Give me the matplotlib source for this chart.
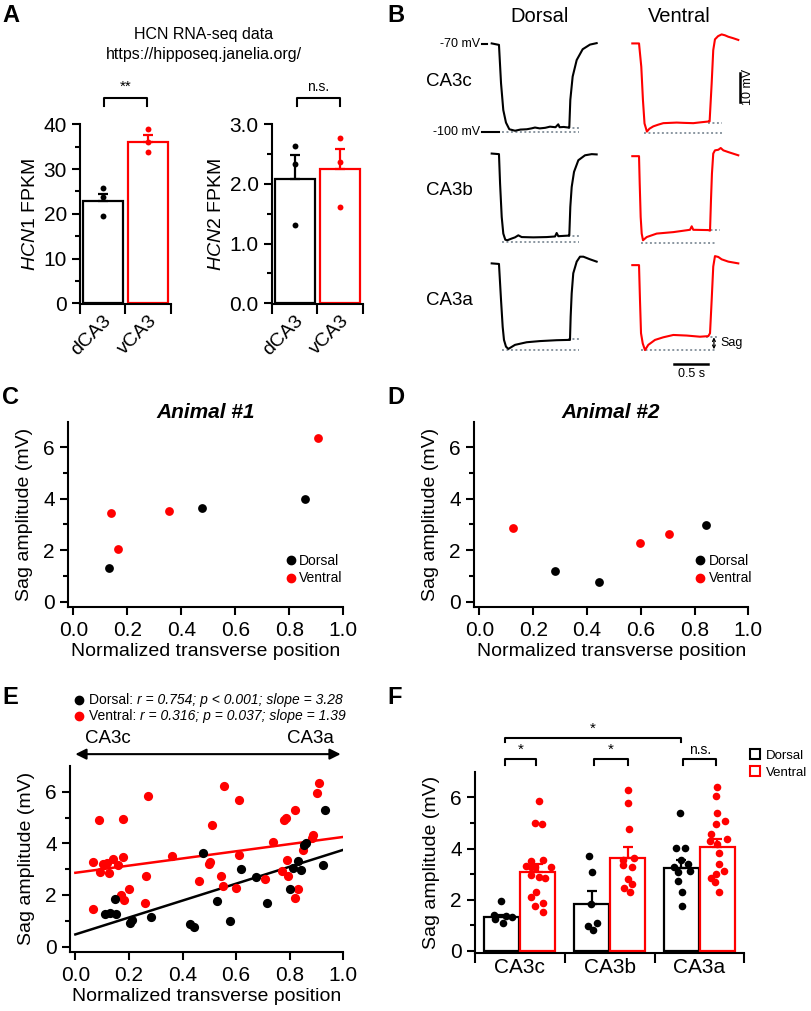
import matplotlib
matplotlib.use('Agg')
import matplotlib.pyplot as plt
import numpy as np
from matplotlib.patches import Patch
from matplotlib.lines import Line2D

plt.rcParams['font.family'] = ['Liberation Sans', 'DejaVu Sans']
plt.rcParams['mathtext.fontset'] = 'custom'
plt.rcParams['mathtext.rm'] = 'Liberation Sans'
plt.rcParams['mathtext.it'] = 'Liberation Sans:italic'

RED = '#ff0000'
GREY = '#8a96a0'

# ---------------- data ----------------
# A: HCN RNA-seq (FPKM)
groups_A = ['dCA3', 'vCA3']
hcn1_mean = [22.9, 36.1]
hcn1_sem = [1.5, 1.5]
hcn1_pts = [[25.7, 23.8, 19.5], [38.9, 36.1, 33.8]]
hcn2_mean = [2.08, 2.25]
hcn2_sem = [0.41, 0.34]
hcn2_pts = [[2.63, 2.34, 1.31], [2.77, 2.37, 1.62]]

# B: example voltage traces (time s, membrane potential mV)
tr_dc_t = [0, 0.106, 0.136, 0.169, 0.208, 0.257, 0.34, 0.42, 0.51, 0.58, 0.631, 0.70, 0.78, 0.85,
           0.93, 0.97, 0.99, 1.05, 1.117, 1.131, 1.146, 1.18, 1.239, 1.326, 1.433, 1.53]
tr_dc_v = [-69.7, -70.2, -83.4, -92.6, -96.9, -99.2, -99.7, -99.3, -99.2, -98.9, -98.6, -98.9, -98.7,
           -98.3, -98.5, -97.5, -98.5, -98.4, -98.6, -98.6, -89.1, -81.1, -75.4, -71.7, -70.1, -69.6]
tr_vc_t = [0, 0.098, 0.131, 0.155, 0.178, 0.213, 0.25, 0.306, 0.38, 0.452, 0.55, 0.647, 0.75, 0.889,
           1.0, 1.122, 1.127, 1.157, 1.18, 1.205, 1.25, 1.302, 1.35, 1.399, 1.47, 1.545]
tr_vc_v = [-69.7, -69.7, -77.7, -89.1, -97.2, -100.0, -99.0, -98.2, -97.6, -97.1, -97.0, -96.9, -97.0,
           -97.1, -96.8, -96.5, -96.5, -83.4, -72.0, -68.3, -67.2, -66.6, -66.9, -67.4, -67.9, -68.5]
tr_db_t = [0, 0.106, 0.122, 0.146, 0.169, 0.198, 0.227, 0.292, 0.34, 0.388, 0.437, 0.607, 0.802,
           0.923, 0.947, 0.971, 1.117, 1.131, 1.146, 1.166, 1.2, 1.263, 1.36, 1.458, 1.53]
tr_db_v = [-70.0, -70.2, -80.3, -91.8, -97.5, -99.6, -99.8, -99.2, -98.8, -98.1, -98.7, -98.8, -98.7,
           -98.5, -97.3, -98.4, -98.2, -98.2, -88.3, -81.5, -76.3, -72.3, -70.6, -70.2, -70.3]
tr_vb_t = [0, 0.098, 0.108, 0.122, 0.137, 0.156, 0.21, 0.356, 0.598, 0.841, 0.866, 0.889, 1.108,
           1.133, 1.147, 1.161, 1.18, 1.205, 1.254, 1.289, 1.327, 1.4, 1.545]
tr_vb_v = [-70.9, -70.9, -80.3, -91.8, -97.5, -99.8, -98.7, -97.5, -97.0, -96.2, -95.0, -96.2, -96.3,
           -96.5, -86.0, -76.9, -70.0, -68.9, -68.7, -68.1, -68.9, -69.5, -70.6]
tr_da_t = [0, 0.106, 0.136, 0.16, 0.179, 0.208, 0.242, 0.34, 0.51, 0.704, 0.947, 1.117, 1.141,
           1.151, 1.166, 1.189, 1.239, 1.287, 1.336, 1.433, 1.53]
tr_da_v = [-70.2, -70.4, -82.8, -92.0, -96.5, -98.8, -99.6, -98.2, -97.3, -96.9, -96.6, -96.5, -96.5,
           -88.5, -80.5, -73.6, -69.6, -67.9, -67.9, -68.8, -69.6]
tr_va_t = [0, 0.098, 0.112, 0.127, 0.152, 0.185, 0.233, 0.331, 0.452, 0.598, 0.793, 0.987, 1.108,
           1.133, 1.157, 1.18, 1.205, 1.254, 1.302, 1.4, 1.545]
tr_va_v = [-70.8, -70.8, -82.8, -94.2, -97.7, -100.0, -98.2, -96.5, -95.6, -94.8, -95.0, -95.4, -95.2,
           -94.2, -82.8, -71.3, -67.7, -68.0, -68.8, -69.6, -70.2]
# peak and steady-state reference levels (t start, t end, mV)
ref_dc = [(0.146, 1.27, -100.3), (1.11, 1.27, -98.9)]
ref_vc = [(0.177, 1.305, -100.4), (1.11, 1.305, -96.9)]
ref_db = [(0.146, 1.27, -100.4), (1.11, 1.29, -98.3)]
ref_vb = [(0.12, 1.24, -100.7), (1.07, 1.28, -96.3)]
ref_da = [(0.146, 1.27, -100.0), (1.11, 1.29, -96.3)]
ref_va = [(0.12, 1.24, -100.0), (1.07, 1.24, -95.4)]

# C, D: single animals
c_dors_x = [0.131, 0.476, 0.858]
c_dors_y = [1.31, 3.63, 3.98]
c_vent_x = [0.140, 0.167, 0.355, 0.907]
c_vent_y = [3.44, 2.03, 3.53, 6.35]
d_dors_x = [0.282, 0.443, 0.841]
d_dors_y = [1.17, 0.75, 2.99]
d_vent_x = [0.124, 0.598, 0.704]
d_vent_y = [2.86, 2.26, 2.64]

# E: pooled
e_dors_x = [0.109, 0.130, 0.147, 0.152, 0.205, 0.211, 0.282, 0.429, 0.443, 0.478, 0.530, 0.576,
            0.620, 0.673, 0.714, 0.801, 0.811, 0.830, 0.842, 0.855, 0.861, 0.925, 0.932]
e_dors_y = [1.28, 1.31, 1.86, 1.25, 0.92, 1.02, 1.15, 0.88, 0.75, 3.64, 1.77, 1.00,
            2.99, 2.68, 1.67, 2.25, 3.05, 3.32, 2.97, 3.94, 4.03, 3.18, 5.31]
e_vent_x = [0.065, 0.065, 0.088, 0.091, 0.102, 0.118, 0.124, 0.140, 0.159, 0.169, 0.178, 0.179,
            0.181, 0.200, 0.260, 0.265, 0.271, 0.359, 0.463, 0.497, 0.503, 0.510, 0.543, 0.550,
            0.554, 0.598, 0.610, 0.610, 0.706, 0.739, 0.773, 0.777, 0.785, 0.791, 0.795, 0.819,
            0.821, 0.830, 0.851, 0.882, 0.888, 0.900, 0.909]
e_vent_y = [3.27, 1.47, 4.91, 2.90, 3.19, 3.25, 2.86, 3.41, 3.16, 1.99, 3.46, 4.96,
            1.80, 2.24, 1.67, 2.73, 5.82, 3.50, 2.53, 3.19, 3.29, 4.70, 2.75, 2.36,
            6.22, 2.26, 5.70, 3.54, 2.63, 4.07, 2.94, 4.91, 4.99, 3.35, 2.73, 5.31,
            1.89, 2.25, 3.75, 4.20, 4.32, 5.96, 6.34]
fit_dors = (0.47, 3.28)   # intercept, slope
fit_vent = (2.86, 1.39)

# F: sag by subregion
regions = ['CA3c', 'CA3b', 'CA3a']
f_dors_mean = [1.31, 1.82, 3.22]
f_dors_sem = [0.10, 0.52, 0.35]
f_vent_mean = [3.10, 3.62, 4.05]
f_vent_sem = [0.30, 0.42, 0.31]
f_dors_pts = [[1.94, 1.40, 1.23, 1.08, 1.36, 1.34],
              [3.70, 3.08, 1.83, 1.10, 0.97, 0.82],
              [5.39, 4.02, 4.02, 3.55, 3.26, 3.39, 3.13, 3.09, 2.74, 2.30, 1.75]]
f_dors_jit = [[-0.006, -0.087, -0.076, 0.013, 0.05, 0.117],
              [-0.032, 0.005, -0.013, 0.057, -0.043, 0.013],
              [-0.015, -0.06, 0.041, 0.0, -0.078, 0.07, 0.09, -0.037, -0.041, 0.008, 0.008]]
f_vent_pts = [[5.87, 5.01, 4.97, 3.52, 3.55, 3.31, 3.26, 3.29, 3.28, 2.96, 2.89, 2.83, 2.31, 2.12, 1.86, 1.75, 1.53],
              [6.27, 5.77, 4.77, 3.57, 3.64, 3.35, 3.26, 2.82, 2.60, 2.44, 2.31],
              [6.41, 6.04, 5.39, 4.96, 5.06, 4.56, 4.28, 4.19, 4.38, 3.84, 3.39, 3.14, 2.83, 3.01, 2.70, 2.32]]
f_vent_jit = [[0.013, -0.036, 0.043, -0.076, 0.054, -0.132, -0.076, -0.028, 0.148, -0.076, 0.009, 0.076, -0.02, -0.076, 0.062, -0.028, 0.054],
              [0.0, 0.0, 0.012, -0.055, 0.076, -0.047, 0.05, 0.0, 0.05, -0.036, 0.028],
              [0.0, -0.013, 0.0, -0.013, 0.08, -0.066, -0.084, 0.0, 0.11, 0.017, 0.02, 0.073, -0.07, -0.01, -0.028, 0.013]]

# ---------------- figure ----------------
W, H = 812, 1011
fig = plt.figure(figsize=(W / 100, H / 100), dpi=100)


def add_ax(l, t, r, b):
    return fig.add_axes([l / W, 1 - b / H, (r - l) / W, (b - t) / H])


def ftext(x, y, s, **kw):
    fig.text(x / W, 1 - y / H, s, **kw)


def style(ax):
    for s in ['top', 'right']:
        ax.spines[s].set_visible(False)
    for s in ['left', 'bottom']:
        ax.spines[s].set_linewidth(1.5)
    ax.tick_params(which='major', length=5.5, width=1.5, labelsize=15, pad=4)
    ax.tick_params(which='minor', length=3.5, width=1.5)


def bracket(ax, x0, x1, y, h, txt, size=11):
    ax.plot([x0, x0, x1, x1], [y - h, y, y, y - h], color='k', lw=1.5, clip_on=False)
    ax.text((x0 + x1) / 2, y + h * 0.5, txt, ha='center', va='bottom', fontsize=size, clip_on=False)


# panel letters
for lab, x, y in [('A', 2, 16), ('B', 387, 16), ('C', 2, 398), ('D', 387, 398), ('E', 2, 698), ('F', 387, 698)]:
    ftext(x, y, lab, fontsize=17, fontweight='bold', ha='left', va='center')

# ---- A ----
ftext(204, 34, 'HCN RNA-seq data', fontsize=11.5, ha='center', va='center')
ftext(204, 55, 'https://hipposeq.janelia.org/', fontsize=11.5, ha='center', va='center')


def bar_panel_A(ax, means, sems, pts, top, ylab, step, minor):
    xs = [0, 1]
    cols = ['k', RED]
    ax.bar(xs, means, width=0.88, color='white', edgecolor=cols, linewidth=1.6, zorder=2)
    for i in xs:
        ax.errorbar(xs[i], means[i], yerr=[[0], [sems[i]]], color=cols[i], capsize=3.5,
                    elinewidth=1.6, capthick=1.6, zorder=3)
        ax.scatter([xs[i]] * len(pts[i]), pts[i], s=18, color=cols[i], zorder=4, linewidths=0)
    ax.set_xlim(-0.5, 1.5)
    ax.set_ylim(-top * 0.004, top)
    ax.set_yticks(np.arange(0, top + step / 2, step))
    ax.set_yticks(minor, minor=True)
    ax.set_xticks([-0.5, 0.5, 1.5])
    ax.set_xticklabels([])
    ax.set_xticks(xs, minor=True)
    ax.set_xticklabels(groups_A, minor=True, rotation=45, ha='right', rotation_mode='anchor', fontsize=14)
    style(ax)
    ax.tick_params(axis='x', which='major', length=7)
    ax.tick_params(axis='x', which='minor', length=0, pad=6)
    ax.set_ylabel(ylab, fontsize=14, labelpad=3)


axA1 = add_ax(80, 124.3, 171, 304)
bar_panel_A(axA1, hcn1_mean, hcn1_sem, hcn1_pts, 40, r'$\mathit{HCN1}$ FPKM', 10, [5, 15, 25, 35])
axA1.set_yticklabels(['0', '10', '20', '30', '40'])
bracket(axA1, 0.03, 0.97, 45.9, 1.8, '**', 11)

axA2 = add_ax(272, 124.3, 363, 304)
bar_panel_A(axA2, hcn2_mean, hcn2_sem, hcn2_pts, 3.0, r'$\mathit{HCN2}$ FPKM', 1.0, [0.5, 1.5, 2.5])
axA2.set_yticklabels(['0.0', '1.0', '2.0', '3.0'])
bracket(axA2, 0.04, 1.0, 3.44, 0.13, 'n.s.', 10)

# ---- B ----
PX_S, PX_MV = 68.6, 2.91
XL, YL = (-0.25, 1.75), (-112, -62)
traces = [[(tr_dc_t, tr_dc_v, ref_dc), (tr_vc_t, tr_vc_v, ref_vc)],
          [(tr_db_t, tr_db_v, ref_db), (tr_vb_t, tr_vb_v, ref_vb)],
          [(tr_da_t, tr_da_v, ref_da), (tr_va_t, tr_va_v, ref_va)]]
row_labels = ['CA3c', 'CA3b', 'CA3a']
col_left = [491.7, 632.3]
bax = {}
for r in range(3):
    top = 44.3 + r * 109.25 - (YL[1] + 70) * PX_MV
    for c in range(2):
        left = col_left[c] + XL[0] * PX_S
        ax = add_ax(left, top, left + (XL[1] - XL[0]) * PX_S, top + (YL[1] - YL[0]) * PX_MV)
        ax.set_xlim(*XL)
        ax.set_ylim(*YL)
        ax.axis('off')
        t, v, refs = traces[r][c]
        for (t0, t1, lev) in refs:
            ax.plot([t0, t1], [lev, lev], color=GREY, lw=1.4, ls=(0, (1, 1.3)), zorder=1)
        ax.plot(t, v, color='k' if c == 0 else RED, lw=1.5, zorder=2)
        bax[(r, c)] = ax
    ftext(426, 81.7 + r * 109.25, row_labels[r], fontsize=13.5, ha='left', va='center')

ftext(539.3, 16.7, 'Dorsal', fontsize=14.5, ha='center', va='center')
ftext(679.3, 16.7, 'Ventral', fontsize=14.5, ha='center', va='center')

a = bax[(0, 0)]
a.plot([-0.146, -0.064], [-70, -70], color='k', lw=1.5, clip_on=False)
a.plot([-0.146, 0.111], [-100, -100], color='k', lw=1.5, clip_on=False)
a.text(-0.17, -70, '-70 mV', fontsize=9, ha='right', va='center')
a.text(-0.17, -100, '-100 mV', fontsize=9, ha='right', va='center')

a = bax[(0, 1)]
a.plot([1.57, 1.57], [-79.8, -89.8], color='k', lw=1.8)
a.text(1.68, -84.8, '10 mV', fontsize=9, rotation=90, ha='center', va='center')

a = bax[(2, 1)]
a.plot([0.608, 1.108], [-104.8, -104.8], color='k', lw=1.8)
a.text(0.858, -108.3, '0.5 s', fontsize=9, ha='center', va='center')
a.annotate('', xy=(1.19, -95.6), xytext=(1.19, -99.7),
           arrowprops=dict(arrowstyle='<->', lw=0.9, color='k', mutation_scale=5, shrinkA=0, shrinkB=0))
a.text(1.28, -97.6, 'Sag', fontsize=9, ha='left', va='center')


# ---- C, D, E ----
def scatter_axes(ax):
    ax.set_xlim(-0.02, 1.0)
    ax.set_ylim(-0.2, 7)
    ax.set_xticks(np.arange(0, 1.01, 0.2))
    ax.set_xticklabels(['0.0', '0.2', '0.4', '0.6', '0.8', '1.0'])
    ax.set_yticks([0, 2, 4, 6])
    ax.set_yticks([1, 3, 5], minor=True)
    style(ax)
    ax.tick_params(axis='x', pad=5)
    ax.set_xlabel('Normalized transverse position', fontsize=14, labelpad=2)
    ax.set_ylabel('Sag amplitude (mV)', fontsize=14, labelpad=7)


def small_legend(ax, x, y):
    h = [Line2D([], [], ls='', marker='o', color='k', markersize=6),
         Line2D([], [], ls='', marker='o', color=RED, markersize=6)]
    ax.legend(h, ['Dorsal', 'Ventral'], loc='upper left', bbox_to_anchor=(x, y), frameon=False,
              fontsize=10, handlelength=0.6, handletextpad=0.3, labelspacing=0.25, borderpad=0,
              borderaxespad=0)


axC = add_ax(68, 421.7, 343.3, 606.7)
axC.scatter(c_dors_x, c_dors_y, s=40, color='k', linewidths=0, zorder=3)
axC.scatter(c_vent_x, c_vent_y, s=40, color=RED, linewidths=0, zorder=3)
scatter_axes(axC)
axC.set_title('Animal #1', fontsize=15, fontweight='bold', fontstyle='italic', pad=3)
small_legend(axC, 0.795, 0.285)

axD = add_ax(474, 421.7, 748.3, 606.7)
axD.scatter(d_dors_x, d_dors_y, s=40, color='k', linewidths=0, zorder=3)
axD.scatter(d_vent_x, d_vent_y, s=40, color=RED, linewidths=0, zorder=3)
scatter_axes(axD)
axD.set_title('Animal #2', fontsize=15, fontweight='bold', fontstyle='italic', pad=3)
small_legend(axD, 0.81, 0.285)

axE = add_ax(70, 766, 343.3, 951.7)
xs = np.array([0.0, 1.0])
axE.plot(xs, fit_vent[0] + fit_vent[1] * xs, color=RED, lw=1.8, zorder=2)
axE.plot(xs, fit_dors[0] + fit_dors[1] * xs, color='k', lw=1.8, zorder=2)
axE.scatter(e_vent_x, e_vent_y, s=44, color=RED, linewidths=0, zorder=3)
axE.scatter(e_dors_x, e_dors_y, s=44, color='k', linewidths=0, zorder=4)
scatter_axes(axE)
axE.annotate('', xy=(0.0, 7.46), xytext=(0.99, 7.46), annotation_clip=False,
             arrowprops=dict(arrowstyle='<|-|>', lw=1.5, color='k', mutation_scale=16, shrinkA=0, shrinkB=0))
axE.text(0.123, 8.05, 'CA3c', fontsize=13.5, ha='center', va='center')
axE.text(0.876, 8.05, 'CA3a', fontsize=13.5, ha='center', va='center')
for yy, col, lab, stat in [(9.57, 'k', 'Dorsal: ', 'r = 0.754; p < 0.001; slope = 3.28'),
                           (8.92, RED, 'Ventral: ', 'r = 0.316; p = 0.037; slope = 1.39')]:
    axE.plot([0.015], [yy], 'o', color=col, markersize=6, clip_on=False)
    t1 = axE.text(0.05, yy, lab, fontsize=10, ha='left', va='center')
    axE.annotate(stat, xy=(1, 0.5), xycoords=t1, fontsize=10, fontstyle='italic', ha='left', va='center')

# ---- F ----
axF = add_ax(475, 771.7, 744.3, 952.7)
pos = np.arange(3)
axF.bar(pos - 0.2, f_dors_mean, width=0.39, color='white', edgecolor='k', linewidth=1.6, zorder=2)
axF.bar(pos + 0.2, f_vent_mean, width=0.39, color='white', edgecolor=RED, linewidth=1.6, zorder=2)
axF.errorbar(pos - 0.2, f_dors_mean, yerr=[[0] * 3, f_dors_sem], fmt='none', ecolor='k',
             capsize=3.5, elinewidth=1.6, capthick=1.6, zorder=3)
axF.errorbar(pos + 0.2, f_vent_mean, yerr=[[0] * 3, f_vent_sem], fmt='none', ecolor=RED,
             capsize=3.5, elinewidth=1.6, capthick=1.6, zorder=3)
for i in range(3):
    axF.scatter(pos[i] - 0.2 + np.array(f_dors_jit[i]), f_dors_pts[i], s=30, color='k', linewidths=0, zorder=4)
    axF.scatter(pos[i] + 0.2 + np.array(f_vent_jit[i]), f_vent_pts[i], s=30, color=RED, linewidths=0, zorder=4)
axF.set_xlim(-0.5, 2.5)
axF.set_ylim(-0.07, 7)
axF.set_yticks([0, 2, 4, 6])
axF.set_yticks([1, 3, 5], minor=True)
axF.set_xticks([-0.5, 0.5, 1.5, 2.5])
axF.set_xticklabels([])
axF.set_xticks(pos, minor=True)
axF.set_xticklabels(regions, minor=True, fontsize=15)
style(axF)
axF.tick_params(axis='x', which='major', length=7)
axF.tick_params(axis='x', which='minor', length=0, pad=4)
axF.set_ylabel('Sag amplitude (mV)', fontsize=14, labelpad=7)
bracket(axF, -0.17, 0.18, 7.48, 0.2, '*', 11)
bracket(axF, 0.83, 1.2, 7.48, 0.2, '*', 11)
bracket(axF, 1.82, 2.19, 7.48, 0.2, 'n.s.', 10)
bracket(axF, -0.17, 1.8, 8.32, 0.17, '*', 11)
hF = [Patch(facecolor='white', edgecolor='k', linewidth=1.5),
      Patch(facecolor='white', edgecolor=RED, linewidth=1.5)]
axF.legend(hF, ['Dorsal', 'Ventral'], loc='upper left', bbox_to_anchor=(1.02, 1.125), frameon=False,
           fontsize=9.5, handlelength=0.75, handleheight=0.75, handletextpad=0.5, labelspacing=0.35,
           borderpad=0, borderaxespad=0)

fig.savefig('out.png', dpi=100)
